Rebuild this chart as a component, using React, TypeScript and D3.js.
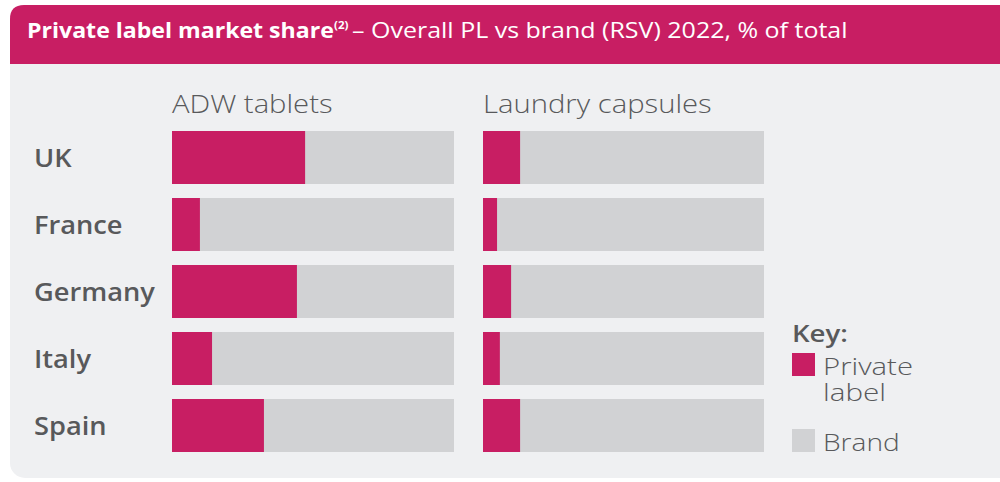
import React from "react";
import * as d3 from "d3";

const countries = ["UK", "France", "Germany", "Italy", "Spain"];
const panels = ["ADW tablets", "Laundry capsules"];
const adwPL = [47.2, 9.9, 44.3, 14.2, 32.6];
const laundryPL = [13.2, 5.0, 10.0, 6.0, 13.2];
const keyTitle = "Key:";
const keyLabels = [["Private", "label"], ["Brand"]];
const titleBold = "Private label market share";
const titleSup = "(2)";
const titleRest = "– Overall PL vs brand (RSV) 2022, % of total";

const PINK = "#c81e63";
const GREY = "#d1d2d4";
const BG = "#eff0f2";
const TEXT = "#58595b";
const FONT = "'Open Sans', sans-serif";

function WideText({ x, y, k, children, ...rest }: any) {
  return (
    <text transform={`translate(${x},${y}) scale(${k},1)`} fontFamily={FONT} {...rest}>
      {children}
    </text>
  );
}

export default function App() {
  const W = 1000;
  const H = 482;
  const y = d3.scaleBand<string>().domain(countries).range([131, 452]).paddingInner(14 / 67).paddingOuter(0);
  const panelX = [
    d3.scaleLinear().domain([0, 100]).range([172, 454]),
    d3.scaleLinear().domain([0, 100]).range([483, 764]),
  ];
  const series = [adwPL, laundryPL];

  const headerPath = `M10,19 Q10,5 24,5 L1000,5 L1000,64 L10,64 Z`;

  return (
    <svg width={W} height={H} style={{ position: "absolute", left: 0, top: 0, background: "#fff" }}>
      <rect x={10} y={5} width={1010} height={473} rx={15} fill={BG} />
      <path d={headerPath} fill={PINK} />
      <WideText x={27} y={37.5} k={1.1} fill="#fff" fontSize={21} fontWeight={700}>{titleBold}</WideText>
      <WideText x={334} y={29} k={1.05} fill="#fff" fontSize={11} fontWeight={700}>{titleSup}</WideText>
      <WideText x={352} y={37.5} k={1.19} fill="#fff" fontSize={21} fontWeight={400}>{titleRest}</WideText>

      {panels.map((p, i) => (
        <WideText key={p} x={panelX[i](0)} y={113} k={1.17} fill={TEXT} fontSize={25} fontWeight={300}>
          {p}
        </WideText>
      ))}

      {countries.map((c) => (
        <WideText key={c} x={34} y={(y(c) as number) + y.bandwidth() / 2 + 9} k={1.09} fill={TEXT} fontSize={25} fontWeight={600}>
          {c}
        </WideText>
      ))}

      {series.map((vals, i) => (
        <g key={i}>
          {countries.map((c, j) => {
            const x = panelX[i];
            const y0 = y(c) as number;
            return (
              <g key={c}>
                <rect x={x(0)} y={y0} width={x(100) - x(0)} height={y.bandwidth()} fill={GREY} />
                <rect x={x(0)} y={y0} width={x(vals[j]) - x(0)} height={y.bandwidth()} fill={PINK} />
              </g>
            );
          })}
        </g>
      ))}

      <WideText x={792} y={342} k={1.15} fill={TEXT} fontSize={24} fontWeight={600}>{keyTitle}</WideText>
      <rect x={792} y={353} width={23} height={23} fill={PINK} />
      <text x={823} y={375} transform="" fontFamily={FONT} fill={TEXT} fontSize={24} fontWeight={300} style={{ transformBox: "fill-box" }}>
        <tspan x={823} textLength={90} lengthAdjust="spacingAndGlyphs">{keyLabels[0][0]}</tspan>
        <tspan x={823} y={401} textLength={63} lengthAdjust="spacingAndGlyphs">{keyLabels[0][1]}</tspan>
      </text>
      <rect x={792} y={429} width={23} height={23} fill={GREY} />
      <WideText x={823} y={451} k={1.17} fill={TEXT} fontSize={24} fontWeight={300}>{keyLabels[1][0]}</WideText>
    </svg>
  );
}
